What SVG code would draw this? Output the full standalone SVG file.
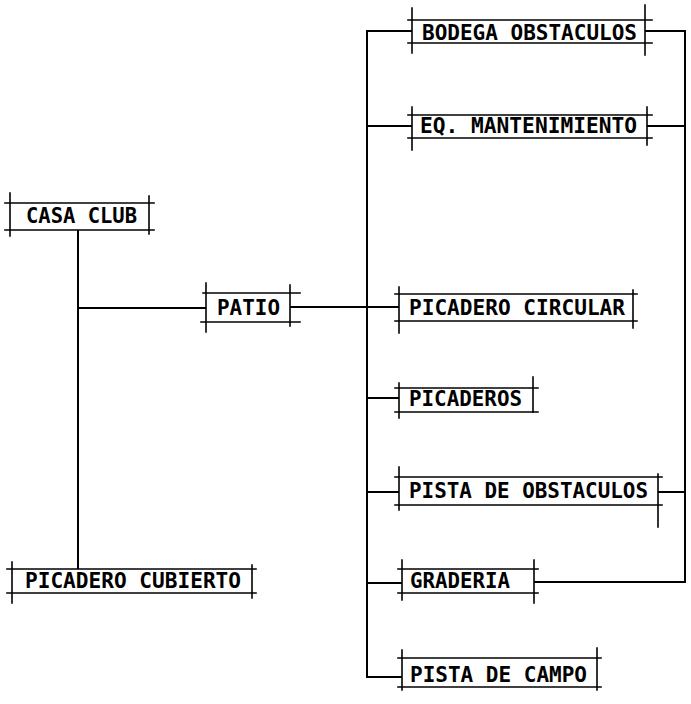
<svg xmlns="http://www.w3.org/2000/svg" width="691" height="704" viewBox="0 0 691 704">
<style>
.b line{stroke:#000;stroke-width:1.6;stroke-linecap:square}
.c path{fill:none;stroke:#000;stroke-width:2}
text{font-family:"DejaVu Sans Mono","Liberation Mono",monospace;font-weight:bold;font-size:21px;fill:#000}
</style>
<rect width="691" height="704" fill="#fff"/>
<g class="c" id="connectors">
<path d="M78,230 V569"/>
<path d="M78,308 H206"/>
<path d="M290,307 H399"/>
<path d="M412,31 H367 V677 H402"/>
<path d="M367,126 H412"/>
<path d="M367,398 H399"/>
<path d="M367,492 H399"/>
<path d="M367,583 H402"/>
<path d="M645,31 H685 V582 H534"/>
<path d="M647,126 H685"/>
<path d="M658,492 H685"/>
</g>
<g class="b" id="casa-club">
<line x1="5" y1="203" x2="154" y2="203"/><line x1="5" y1="230" x2="154" y2="230"/>
<line x1="10" y1="193" x2="10" y2="236"/><line x1="149" y1="196" x2="149" y2="234"/>
<text x="26" y="223" textLength="111" lengthAdjust="spacingAndGlyphs">CASA CLUB</text>
</g>
<g class="b" id="picadero-cubierto">
<line x1="7" y1="569" x2="256" y2="569"/><line x1="7" y1="593" x2="256" y2="593"/>
<line x1="12" y1="562" x2="12" y2="603"/><line x1="252" y1="565" x2="252" y2="598"/>
<text x="25" y="588" textLength="216" lengthAdjust="spacingAndGlyphs">PICADERO CUBIERTO</text>
</g>
<g class="b" id="patio">
<line x1="203" y1="293" x2="300" y2="293"/><line x1="201" y1="322" x2="300" y2="322"/>
<line x1="206" y1="283" x2="206" y2="332"/><line x1="290" y1="285" x2="290" y2="326"/>
<text x="217" y="315" textLength="63" lengthAdjust="spacingAndGlyphs">PATIO</text>
</g>
<g class="b" id="bodega-obstaculos">
<line x1="408" y1="20" x2="652" y2="20"/><line x1="408" y1="43" x2="652" y2="43"/>
<line x1="412" y1="8" x2="412" y2="53"/><line x1="645" y1="5" x2="645" y2="55"/>
<text x="422" y="40" textLength="215" lengthAdjust="spacingAndGlyphs">BODEGA OBSTACULOS</text>
</g>
<g class="b" id="eq-mantenimiento">
<line x1="408" y1="115" x2="652" y2="115"/><line x1="408" y1="138" x2="652" y2="138"/>
<line x1="412" y1="107" x2="412" y2="150"/><line x1="647" y1="107" x2="647" y2="145"/>
<text x="420" y="133" textLength="217" lengthAdjust="spacingAndGlyphs">EQ. MANTENIMIENTO</text>
</g>
<g class="b" id="picadero-circular">
<line x1="395" y1="294" x2="637" y2="294"/><line x1="395" y1="321" x2="637" y2="321"/>
<line x1="399" y1="287" x2="399" y2="333"/><line x1="633" y1="290" x2="633" y2="328"/>
<text x="409" y="315" textLength="216" lengthAdjust="spacingAndGlyphs">PICADERO CIRCULAR</text>
</g>
<g class="b" id="picaderos">
<line x1="395" y1="388" x2="538" y2="388"/><line x1="395" y1="412" x2="538" y2="412"/>
<line x1="399" y1="383" x2="399" y2="418"/><line x1="533" y1="377" x2="533" y2="412"/>
<text x="409" y="406" textLength="113" lengthAdjust="spacingAndGlyphs">PICADEROS</text>
</g>
<g class="b" id="pista-de-obstaculos">
<line x1="395" y1="477" x2="662" y2="477"/><line x1="395" y1="505" x2="662" y2="505"/>
<line x1="399" y1="467" x2="399" y2="510"/><line x1="658" y1="474" x2="658" y2="527"/>
<text x="409" y="498" textLength="239" lengthAdjust="spacingAndGlyphs">PISTA DE OBSTACULOS</text>
</g>
<g class="b" id="graderia">
<line x1="398" y1="569" x2="538" y2="569"/><line x1="398" y1="593" x2="538" y2="593"/>
<line x1="402" y1="560" x2="402" y2="600"/><line x1="534" y1="560" x2="534" y2="603"/>
<text x="410" y="588" textLength="100" lengthAdjust="spacingAndGlyphs">GRADERIA</text>
</g>
<g class="b" id="pista-de-campo">
<line x1="398" y1="658" x2="601" y2="658"/><line x1="398" y1="687" x2="601" y2="687"/>
<line x1="402" y1="650" x2="402" y2="690"/><line x1="597" y1="648" x2="597" y2="690"/>
<text x="410" y="682" textLength="177" lengthAdjust="spacingAndGlyphs">PISTA DE CAMPO</text>
</g>
</svg>
